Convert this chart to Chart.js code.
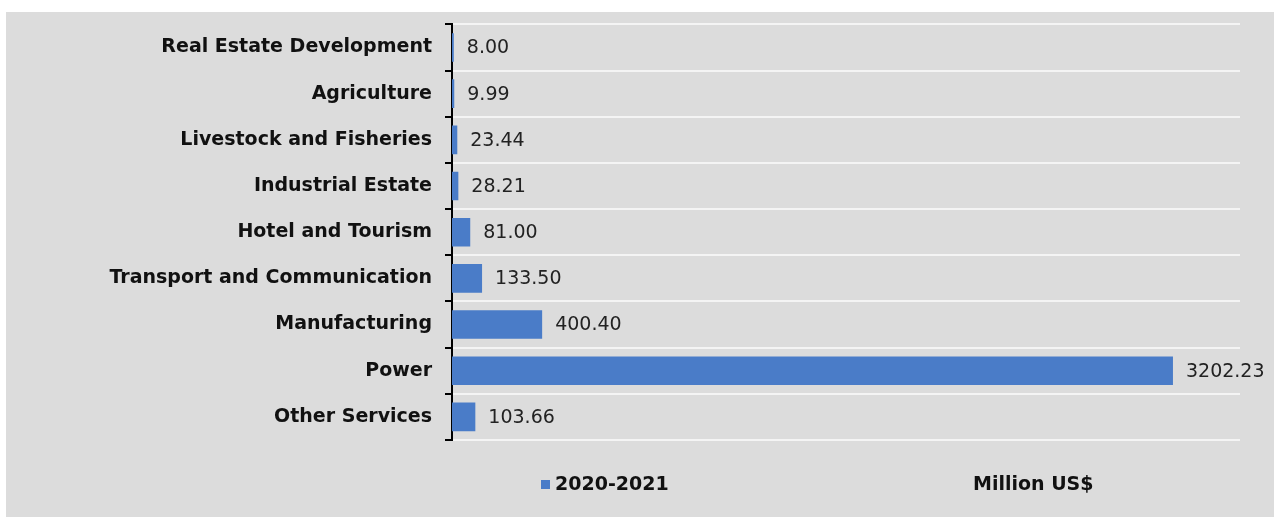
<!DOCTYPE html>
<html>
<head>
<meta charset="utf-8">
<script src="https://cdn.jsdelivr.net/npm/chart.js@4/dist/chart.umd.min.js"></script>
<style>
  html, body { margin: 0; padding: 0; background: #ffffff; }
  #wrap { position: relative; width: 1274px; height: 517px; }
  canvas { display: block; }
</style>
</head>
<body>
<div id="wrap"><canvas id="c" width="1274" height="517"></canvas></div>
<script>
const categories = [
  "Real Estate Development",
  "Agriculture",
  "Livestock and Fisheries",
  "Industrial Estate",
  "Hotel and Tourism",
  "Transport and Communication",
  "Manufacturing",
  "Power",
  "Other Services"
];
const values2020_2021 = [8.00, 9.99, 23.44, 28.21, 81.00, 133.50, 400.40, 3202.23, 103.66];
const seriesLabel = "2020-2021";
const unitLabel = "Million US$";
const xMax = 3500;

const BAR_COLOR = "#4a7cc8";

const backgroundPlugin = {
  id: "bg",
  beforeDraw(chart) {
    const ctx = chart.ctx;
    ctx.save();
    ctx.fillStyle = "#ffffff";
    ctx.fillRect(0, 0, chart.width, chart.height);
    ctx.fillStyle = "#dcdcdc";
    ctx.fillRect(6, 12, chart.width - 6, chart.height - 12);
    ctx.restore();
  }
};

const valueLabelPlugin = {
  id: "valueLabels",
  afterDatasetsDraw(chart) {
    const ctx = chart.ctx;
    ctx.save();
    ctx.font = "19px 'DejaVu Sans'";
    ctx.fillStyle = "#222222";
    ctx.textAlign = "left";
    ctx.textBaseline = "middle";
    chart.data.datasets.forEach((ds, di) => {
      const meta = chart.getDatasetMeta(di);
      meta.data.forEach((el, i) => {
        ctx.fillText(ds.data[i].toFixed(2), el.x + 13, el.y + 1);
      });
    });
    ctx.restore();
  }
};

const customLegendPlugin = {
  id: "customLegend",
  afterDraw(chart) {
    const ctx = chart.ctx;
    const y = 485;
    ctx.save();
    ctx.fillStyle = chart.data.datasets[0].backgroundColor;
    ctx.fillRect(541, y - 5, 9, 9);
    ctx.font = "bold 19px 'DejaVu Sans'";
    ctx.fillStyle = "#111111";
    ctx.textAlign = "left";
    ctx.textBaseline = "middle";
    ctx.fillText(chart.data.datasets[0].label, 555, y);
    ctx.fillText(unitLabel, 973, y);
    ctx.restore();
  }
};

new Chart(document.getElementById("c"), {
  type: "bar",
  data: {
    labels: categories,
    datasets: [{
      label: seriesLabel,
      data: values2020_2021,
      backgroundColor: BAR_COLOR,
      borderWidth: 0,
      categoryPercentage: 0.62,
      barPercentage: 1.0
    }]
  },
  options: {
    indexAxis: "y",
    responsive: false,
    animation: false,
    devicePixelRatio: 1,
    layout: { padding: { left: 0, top: 22, right: 34, bottom: 77 } },
    plugins: {
      legend: { display: false },
      tooltip: { enabled: false }
    },
    scales: {
      x: {
        display: false,
        min: 0,
        max: xMax
      },
      y: {
        afterFit(scale) { scale.width = 452; },
        grid: {
          display: true,
          offset: true,
          color: "#f4f4f4",
          lineWidth: 2,
          drawTicks: true,
          tickLength: 7,
          tickColor: "#000000",
          tickWidth: 2
        },
        border: { display: true, color: "#000000", width: 2 },
        ticks: {
          padding: 13,
          color: "#111111",
          font: { family: "'DejaVu Sans'", size: 19, weight: "bold" }
        }
      }
    }
  },
  plugins: [backgroundPlugin, valueLabelPlugin, customLegendPlugin]
});
</script>
</body>
</html>
